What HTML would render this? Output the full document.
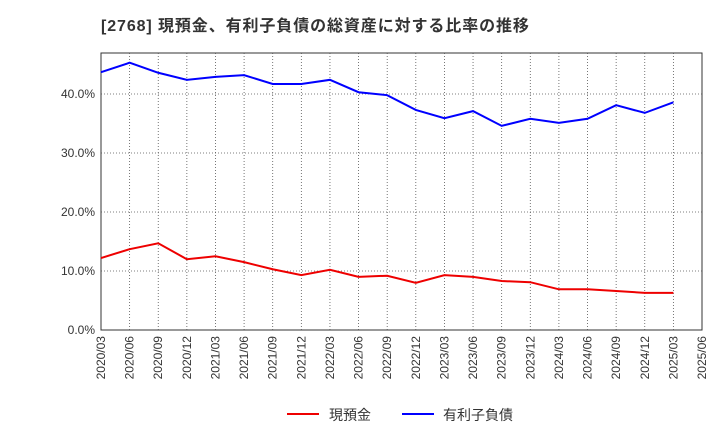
<!DOCTYPE html>
<html><head><meta charset="utf-8"><style>
body{margin:0;background:#fff;}
svg{display:block;font-family:"Liberation Sans","Noto Sans CJK JP",sans-serif;}
</style></head><body>
<svg id="c" width="720" height="440">
<text x="101" y="31" font-size="16" letter-spacing="0.9" font-weight="bold" fill="#333">[2768]  現預金、有利子負債の総資産に対する比率の推移</text>
<rect x="101" y="53" width="601" height="277" fill="none" stroke="#333" stroke-width="1"/>
<g id="grid"></g><g id="ticks"></g><g id="series"></g>
<g>
<line x1="287" y1="414" x2="319" y2="414" stroke="#e00" stroke-width="2"/>
<text x="329" y="420" font-size="14" fill="#333">現預金</text>
<line x1="402" y1="414" x2="434" y2="414" stroke="#00f" stroke-width="2"/>
<text x="443" y="420" font-size="14" fill="#333">有利子負債</text>
</g>
</svg>
<script>
const categories=["2020/03","2020/06","2020/09","2020/12","2021/03","2021/06","2021/09","2021/12","2022/03","2022/06","2022/09","2022/12","2023/03","2023/06","2023/09","2023/12","2024/03","2024/06","2024/09","2024/12","2025/03","2025/06"];
const cashValues=[12.2,13.7,14.7,12.0,12.5,11.5,10.3,9.3,10.2,9.0,9.2,8.0,9.3,9.0,8.3,8.1,6.9,6.9,6.6,6.3,6.3];
const debtValues=[43.7,45.3,43.6,42.4,42.9,43.2,41.7,41.7,42.4,40.3,39.8,37.3,35.9,37.1,34.6,35.8,35.1,35.8,38.1,36.8,38.6];
const yTicks=[0,10,20,30,40];
const NS="http://www.w3.org/2000/svg";
const x=i=>101+i*601/(categories.length-1);
const y=v=>330-v*5.9;
const grid=document.getElementById('grid'),ticks=document.getElementById('ticks'),ser=document.getElementById('series');
function mk(tag,attrs,parent){const e=document.createElementNS(NS,tag);for(const k in attrs)e.setAttribute(k,attrs[k]);parent.appendChild(e);return e;}
categories.forEach((c,i)=>{
 if(i>0&&i<categories.length-1){const l=mk('line',{x1:x(i),x2:x(i),y1:53,y2:330,stroke:'#555','stroke-dasharray':'1,2','stroke-width':0.8},grid);
 
 }
 const t=mk('text',{transform:`translate(${x(i)+4},336) rotate(-90)`,'font-size':12,fill:'#333','text-anchor':'end'},ticks);
 t.textContent=c;
 
 
});
yTicks.forEach(v=>{
 if(v>0){const l=mk('line',{x1:101,x2:702,y1:y(v),y2:y(v),stroke:'#555','stroke-dasharray':'1,2','stroke-width':0.8},grid);
 
 }
 const t=mk('text',{x:95,y:y(v)+4,'font-size':12,fill:'#333','text-anchor':'end'},ticks);
 t.textContent=v.toFixed(1)+'%';
 
 
});
function line(vals,color,name){
 const p=mk('polyline',{points:vals.map((v,i)=>x(i)+','+y(v)).join(' '),fill:'none',stroke:color,'stroke-width':2},ser);
 
 
}
line(cashValues,'#e00','cash-line');
line(debtValues,'#00f','debt-line');
</script>
</body></html>
